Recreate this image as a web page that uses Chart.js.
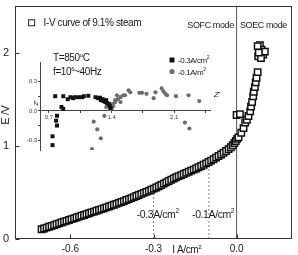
<!DOCTYPE html>
<html><head><meta charset="utf-8">
<script src="https://cdn.jsdelivr.net/npm/chart.js@4/dist/chart.umd.min.js"></script>
<style>
html,body{margin:0;padding:0;background:#fff;}
#wrap{position:relative;width:298px;height:255px;overflow:hidden;}
#main{position:absolute;left:0;top:0;}
#inset{position:absolute;left:20px;top:50px;}
</style></head><body>
<div id="wrap"><canvas id="main" width="298" height="255"></canvas><canvas id="inset" width="210" height="110"></canvas></div>
<script>
// ---------- main I-V curve (I in A/cm2, E in V) ----------
const ivCurrent = [-0.704,-0.695,-0.686,-0.677,-0.668,-0.659,-0.650,-0.641,-0.632,-0.623,-0.614,-0.605,-0.596,-0.587,-0.578,-0.569,-0.560,-0.551,-0.542,-0.533,-0.524,-0.515,-0.506,-0.497,-0.488,-0.479,-0.470,-0.461,-0.452,-0.443,-0.434,-0.425,-0.416,-0.407,-0.398,-0.389,-0.380,-0.371,-0.362,-0.353,-0.344,-0.335,-0.326,-0.317,-0.308,-0.299,-0.290,-0.281,-0.272,-0.263,-0.254,-0.245,-0.236,-0.227,-0.218,-0.209,-0.200,-0.191,-0.182,-0.173,-0.164,-0.155,-0.146,-0.137,-0.128,-0.119,-0.110,-0.101,-0.092,-0.083,-0.074,-0.065,-0.056,-0.047,-0.038,-0.029,-0.021,-0.014,-0.008,-0.003,0.002,0.007,0.017,0.025,0.031,0.037,0.043,0.049,0.052,0.056,0.060,0.062,0.066,0.069,0.072,0.076,0.000,0.012,0.084,0.090,0.078,0.096,0.102,0.076,0.088,0.080];
const ivVoltage = [0.105,0.113,0.122,0.131,0.140,0.149,0.158,0.168,0.177,0.186,0.195,0.204,0.213,0.222,0.231,0.240,0.250,0.258,0.267,0.276,0.285,0.294,0.303,0.312,0.321,0.330,0.339,0.349,0.358,0.367,0.377,0.387,0.397,0.407,0.418,0.428,0.439,0.450,0.461,0.472,0.484,0.495,0.506,0.517,0.529,0.541,0.553,0.566,0.580,0.594,0.608,0.622,0.636,0.649,0.662,0.674,0.686,0.698,0.710,0.721,0.733,0.745,0.757,0.770,0.783,0.797,0.811,0.826,0.841,0.857,0.873,0.890,0.907,0.925,0.944,0.964,0.985,1.006,1.028,1.051,1.075,1.090,1.140,1.190,1.250,1.280,1.320,1.370,1.420,1.470,1.530,1.580,1.630,1.680,1.730,1.790,1.330,1.340,2.080,2.030,1.960,1.980,2.010,2.070,1.940,2.000];
const probeCurrents = [-0.3, -0.1];
const probeVoltages = [0.545, 0.83];
const modeBoundary = 0.0;
const xTicks = [-0.75,-0.6,-0.45,-0.3,-0.15,0,0.15];
const xLabels = [-0.6,-0.3,0];
const yTicks = [0,0.5,1,1.5,2,2.5];
const yLabels = [0,1,2];

// ---------- inset impedance (Z', Z'') ----------
const zRe03 = [0.74,0.74,0.79,0.78,0.79,0.77,0.84,0.86,0.86,0.91,0.94,0.97,0.99,1.03,1.07,1.09,1.14,1.22,1.25,1.27,1.28,1.30,1.31,1.33,1.34,1.35,1.37,1.38,1.39];
const zIm03 = [-0.35,-0.26,-0.15,-0.10,-0.05,0.15,0.04,0.02,0.15,0.12,0.14,0.13,0.14,0.14,0.14,0.15,0.155,0.14,0.13,0.135,0.11,0.12,0.10,0.09,0.11,0.08,0.07,0.05,0.03];
const zRe01 = [1.18,1.20,1.24,1.28,1.32,1.34,1.38,1.40,1.41,1.42,1.44,1.44,1.46,1.47,1.50,1.50,1.53,1.55,1.59,1.61,1.71,1.74,1.79,1.87,1.89,1.96,1.98,2.00,2.02,2.12,2.26,2.38,2.22,2.27];
const zIm01 = [-0.39,-0.11,-0.19,-0.28,-0.05,0.04,0.02,0.02,0.07,0.05,0.11,0.09,0.16,0.12,0.09,0.14,0.16,0.16,0.21,0.19,0.185,0.185,0.175,0.13,0.19,0.23,0.20,0.175,0.16,0.15,0.16,0.10,-0.12,-0.18];
const insetXTicks = [0.7,1.05,1.4,1.75,2.1,2.45];
const insetXLabels = [0.7,1.4,2.1];
const insetYTicks = [-0.3,-0.15,0,0.15,0.3];
const insetYLabels = [-0.3,0,0.3];

const FONT = '"Liberation Sans", Arial, sans-serif';
const INK = '#1a1a1a';

function drawRich(ctx, x, y, parts, size, align) {
  let total = 0;
  const segs = parts.map(p => {
    const sup = typeof p !== 'string';
    const txt = sup ? p.sup : p;
    const fs = sup ? size * 0.62 : size;
    ctx.font = fs + 'px ' + FONT;
    const w = ctx.measureText(txt).width;
    total += w;
    return {txt, fs, w, sup};
  });
  let cx = align === 'center' ? x - total / 2 : (align === 'right' ? x - total : x);
  ctx.textAlign = 'left';
  ctx.textBaseline = 'alphabetic';
  segs.forEach(s => {
    ctx.font = s.fs + 'px ' + FONT;
    ctx.fillText(s.txt, cx, s.sup ? y - size * 0.4 : y);
    cx += s.w;
  });
}

function zeroPad(s) { s.paddingTop = 0; s.paddingBottom = 0; s.paddingLeft = 0; s.paddingRight = 0; }

const mainDeco = {
  id: 'mainDeco',
  afterDraw(chart) {
    const {ctx, chartArea: a, scales: {x, y}} = chart;
    ctx.save();
    try { ctx.letterSpacing = '-0.4px'; } catch (e) {}
    ctx.strokeStyle = '#333';
    ctx.lineWidth = 1;
    const L = Math.round(a.left) + 0.5, R = Math.round(a.right) - 0.5, T = Math.round(a.top) + 0.5, B = Math.round(a.bottom) - 0.5;
    ctx.strokeRect(L, T, R - L, B - T);
    ctx.beginPath();
    x.ticks.forEach(t => { const px = Math.round(x.getPixelForValue(t.value)) + 0.5; ctx.moveTo(px, B); ctx.lineTo(px, B - 4); });
    y.ticks.forEach(t => { const py = Math.round(y.getPixelForValue(t.value)) + 0.5; ctx.moveTo(L, py); ctx.lineTo(L + 4, py); });
    ctx.stroke();

    ctx.fillStyle = INK;
    // legend
    const lx = x.getPixelForValue(-0.74), ly = y.getPixelForValue(2.32);
    ctx.fillStyle = '#fff';
    ctx.fillRect(lx - 3.5, ly - 3.5, 7, 7);
    ctx.strokeStyle = '#222';
    ctx.strokeRect(lx - 3, ly - 3, 6, 6);
    ctx.fillStyle = INK;
    drawRich(ctx, lx + 12, ly + 3.5, ['I-V curve of 9.1% steam'], 10, 'left');
    // mode labels
    drawRich(ctx, x.getPixelForValue(-0.094), y.getPixelForValue(2.30) + 3.2, ['SOFC mode'], 9, 'center');
    drawRich(ctx, x.getPixelForValue(0.097), y.getPixelForValue(2.30) + 3.2, ['SOEC mode'], 9, 'center');
    // probe labels
    drawRich(ctx, x.getPixelForValue(-0.285), y.getPixelForValue(0.273) + 4, ['-0.3A/cm', {sup: '2'}], 10.5, 'center');
    drawRich(ctx, x.getPixelForValue(-0.085), y.getPixelForValue(0.273) + 4, ['-0.1A/cm', {sup: '2'}], 10.5, 'center');
    // axis titles
    drawRich(ctx, x.getPixelForValue(-0.18), a.bottom + 14, ['I A/cm', {sup: '2'}], 10, 'center');
    ctx.save();
    ctx.translate(8.5, y.getPixelForValue(1.33));
    ctx.rotate(-Math.PI / 2);
    drawRich(ctx, 0, 0, ['E /V'], 11, 'center');
    ctx.restore();
    ctx.restore();
  }
};

new Chart(document.getElementById('main'), {
  type: 'scatter',
  data: {
    datasets: [
      {
        data: ivCurrent.map((v, i) => ({x: v, y: ivVoltage[i]})),
        pointStyle: 'rect', pointRadius: 4.5, borderWidth: 1.5,
        borderColor: '#111', backgroundColor: '#fff'
      },
      {
        data: [{x: probeCurrents[0], y: 0}, {x: probeCurrents[0], y: probeVoltages[0]}],
        showLine: true, pointRadius: 0, borderColor: '#8a8a8a', borderWidth: 1, borderDash: [2, 2]
      },
      {
        data: [{x: probeCurrents[1], y: 0}, {x: probeCurrents[1], y: probeVoltages[1]}],
        showLine: true, pointRadius: 0, borderColor: '#8a8a8a', borderWidth: 1, borderDash: [2, 2]
      },
      {
        data: [{x: modeBoundary, y: 0}, {x: modeBoundary, y: 2.5}],
        showLine: true, pointRadius: 0, borderColor: '#555', borderWidth: 1
      }
    ]
  },
  options: {
    responsive: false, animation: false, devicePixelRatio: 1,
    layout: {padding: {left: 0, right: 4, top: 1, bottom: 0}},
    plugins: {legend: {display: false}, tooltip: {enabled: false}},
    scales: {
      x: {
        type: 'linear', min: -0.8, max: 0.2,
        afterBuildTicks: s => { s.ticks = xTicks.map(v => ({value: v})); },
        afterFit: s => { s.height = 16; zeroPad(s); },
        grid: {display: false, drawTicks: false}, border: {display: false},
        ticks: {
          autoSkip: false, maxRotation: 0, padding: 4, color: INK,
          font: {size: 10, family: FONT},
          callback: v => xLabels.includes(v) ? (v === 0 ? '0.0' : v.toFixed(1)) : null
        }
      },
      y: {
        type: 'linear', min: 0, max: 2.5,
        afterBuildTicks: s => { s.ticks = yTicks.map(v => ({value: v})); },
        afterFit: s => { s.width = 15; zeroPad(s); },
        grid: {display: false, drawTicks: false}, border: {display: false},
        ticks: {
          autoSkip: false, padding: 6, color: INK,
          font: {size: 11, family: FONT},
          callback: v => yLabels.includes(v) ? String(v) : null
        }
      }
    }
  },
  plugins: [mainDeco]
});

const insetDeco = {
  id: 'insetDeco',
  afterDraw(chart) {
    const {ctx, chartArea: a, scales: {x, y}} = chart;
    ctx.save();
    try { ctx.letterSpacing = '-0.4px'; } catch (e) {}
    ctx.fillStyle = INK;
    drawRich(ctx, a.left + 13, a.top - 1.5, ['T=850', {sup: 'o'}, 'C'], 10, 'left');
    drawRich(ctx, a.left + 13, a.top + 12.5, ['f=10', {sup: '6'}, '~40Hz'], 10, 'left');
    // inset legend
    const mx = a.left + 132;
    ctx.fillStyle = '#111';
    ctx.fillRect(mx - 2.5, a.top - 4.5, 5, 5);
    ctx.fillStyle = '#6e6e6e';
    ctx.beginPath(); ctx.arc(mx, a.top + 9.5, 2.6, 0, Math.PI * 2); ctx.fill();
    ctx.fillStyle = INK;
    drawRich(ctx, mx + 6, a.top + 0.5, ['-0.3A/cm', {sup: '2'}], 8, 'left');
    drawRich(ctx, mx + 6, a.top + 12.5, ['-0.1A/m', {sup: '2'}], 8, 'left');
    // axis names
    ctx.font = 'italic 8px ' + FONT;
    ctx.textAlign = 'left'; ctx.textBaseline = 'middle';
    ctx.fillText("Z'", a.right + 4, y.getPixelForValue(0.16));
    ctx.save();
    ctx.translate(a.left - 4, y.getPixelForValue(0.08));
    ctx.rotate(-Math.PI / 2);
    ctx.font = 'italic 6px ' + FONT;
    ctx.textAlign = 'center';
    ctx.fillText("Z''", 0, 0);
    ctx.restore();
    ctx.restore();
  }
};

new Chart(document.getElementById('inset'), {
  type: 'scatter',
  data: {
    datasets: [
      {
        data: zRe03.map((v, i) => ({x: v, y: zIm03[i]})),
        pointStyle: 'rect', pointRadius: 2.8, borderWidth: 0,
        backgroundColor: '#111', borderColor: '#111'
      },
      {
        data: zRe01.map((v, i) => ({x: v, y: zIm01[i]})),
        pointStyle: 'circle', pointRadius: 2.1, borderWidth: 0,
        backgroundColor: '#6e6e6e', borderColor: '#6e6e6e'
      }
    ]
  },
  options: {
    responsive: false, animation: false, devicePixelRatio: 1,
    layout: {padding: {left: 0, right: 20, top: 12, bottom: 10}},
    plugins: {legend: {display: false}, tooltip: {enabled: false}},
    scales: {
      x: {
        type: 'linear', min: 0.6, max: 2.5, position: {y: 0},
        afterBuildTicks: s => { s.ticks = insetXTicks.map(v => ({value: v})); },
        afterFit: s => { zeroPad(s); },
        grid: {display: true, drawOnChartArea: false, drawTicks: true, tickLength: 2, color: '#444'},
        border: {display: true, color: '#444', width: 1},
        ticks: {
          autoSkip: false, maxRotation: 0, padding: 1, color: '#444',
          font: {size: 6, family: FONT},
          callback: v => insetXLabels.includes(v) ? v.toFixed(1) : ''
        }
      },
      y: {
        type: 'linear', min: -0.4, max: 0.5, position: 'left',
        afterBuildTicks: s => { s.ticks = insetYTicks.map(v => ({value: v})); },
        afterFit: s => { s.width = 20; zeroPad(s); },
        grid: {display: true, drawOnChartArea: false, drawTicks: true, tickLength: 2, color: '#444'},
        border: {display: true, color: '#444', width: 1},
        ticks: {
          autoSkip: false, padding: 1, color: '#444',
          font: {size: 6, family: FONT},
          callback: v => insetYLabels.includes(v) ? v.toFixed(1) : ''
        }
      }
    }
  },
  plugins: [insetDeco]
});
</script>
</body></html>
